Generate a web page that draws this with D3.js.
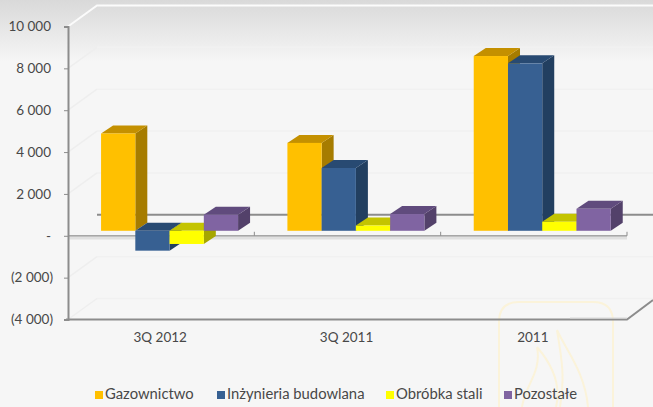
<!DOCTYPE html>
<html><head><meta charset="utf-8">
<script src="https://cdn.jsdelivr.net/npm/d3@7"></script>
<style>html,body{margin:0;padding:0;background:#f6f6f6}svg{display:block}text{font-family:Lato,"Open Sans",sans-serif;fill:#484848}</style>
</head><body><div id="c"></div>
<script>
const categories = ["3Q 2012","3Q 2011","2011"];
const seriesNames = ["Gazownictwo","Inżynieria budowlana","Obróbka stali","Pozostałe"];
const gazownictwo = [4650,4200,8350];
const inzynieria = [-950,3000,8000];
const obrobka = [-630,250,430];
const pozostale = [770,800,1050];
const seriesValues = [gazownictwo,inzynieria,obrobka,pozostale];
const frontColors = ["#FFC000","#376092","#FFFF00","#8064A2"];
const topColors = ["#C49000","#284A72","#C4C400","#604B7D"];
const sideColors = ["#A67C00","#223F60","#A6A600","#53416A"];
const tickValues = [10000,8000,6000,4000,2000,0,-2000,-4000];
const tickLabels = ["10 000","8 000","6 000","4 000","2 000","-","(2 000)","(4 000)"];

const W=653,H=407;
const svg=d3.select("#c").append("svg").attr("width",W).attr("height",H);
const defs=svg.append("defs");
const g=defs.append("linearGradient").attr("id","bg").attr("x1",0).attr("x2",0).attr("y1",0).attr("y2",1);
g.append("stop").attr("offset",0).attr("stop-color","#d9d9d9");
g.append("stop").attr("offset",1).attr("stop-color","#f6f6f6");
svg.append("rect").attr("width",W).attr("height",H).attr("fill","#f6f6f6");
svg.append("rect").attr("width",W).attr("height",62).attr("fill","url(#bg)");

// faint watermark
const wm=svg.append("g").attr("fill","none").attr("stroke","#fbf3da").attr("stroke-width",2);
wm.append("path").attr("d","M499 407V322Q499 302 519 302H593Q613 302 613 322V407");
wm.append("path").attr("d","M557 330C566 350 585 372 588 407M557 330C560 350 566 375 560 407");
wm.append("path").attr("d","M537 347C550 362 562 382 556 407M537 347C542 372 525 385 522 407");

const y=d3.scaleLinear().domain([-4000,10000]).range([319.5,26.5]);
const x0=d3.scaleBand().domain(categories).range([68,627]);
const x1=d3.scaleBand().domain(seriesNames).range([0,x0.bandwidth()]).paddingOuter(0.72).paddingInner(0);
const depthX=29,depthY=-21,barDX=12,barDY=-8,barShiftX=8.4,barShiftY=-5;
const plotR=627;

// back wall + side grid
const grid=svg.append("g");
tickValues.filter(v=>v!==0&&v!==10000&&v!==-4000).forEach(v=>{
  grid.append("line").attr("x1",68).attr("y1",y(v)).attr("x2",68+depthX).attr("y2",y(v)+depthY).attr("stroke","#eeeeee").attr("stroke-width",1.5);
  grid.append("line").attr("x1",68+depthX).attr("y1",y(v)+depthY).attr("x2",W).attr("y2",y(v)+depthY).attr("stroke","#f1f1f1").attr("stroke-width",1.5);
});
grid.append("line").attr("x1",68).attr("y1",y(-4000)).attr("x2",68+depthX).attr("y2",y(-4000)+depthY).attr("stroke","#eeeeee").attr("stroke-width",1.5);
grid.append("line").attr("x1",68+depthX).attr("y1",y(-4000)+depthY).attr("x2",W).attr("y2",y(-4000)+depthY).attr("stroke","#f1f1f1").attr("stroke-width",1.5);
grid.append("path").attr("d",`M68 ${y(10000)}L${68+depthX} ${y(10000)+depthY}H${W}`).attr("fill","none").attr("stroke","#fbfbfb").attr("stroke-width",2);
// zero plane
grid.append("line").attr("x1",68).attr("x2",plotR).attr("y1",y(0)+2.5).attr("y2",y(0)+2.5).attr("stroke","#e0e0e0").attr("stroke-width",2.5);
grid.append("line").attr("x1",68+depthX).attr("x2",W).attr("y1",y(0)+depthY).attr("y2",y(0)+depthY).attr("stroke","#8c8c8c").attr("stroke-width",2);
grid.append("line").attr("x1",68).attr("x2",plotR).attr("y1",y(0)).attr("y2",y(0)).attr("stroke","#8c8c8c").attr("stroke-width",1.2);
x0.domain().slice(1).concat(["end"]).forEach((c,i)=>{
  const px=68+(i+1)*x0.bandwidth();
  grid.append("line").attr("x1",px).attr("x2",px).attr("y1",y(0)-4).attr("y2",y(0)).attr("stroke","#8c8c8c").attr("stroke-width",1);
});

// bars
const y0=y(0);
categories.forEach((c,ci)=>{
  seriesNames.forEach((s,si)=>{
    const v=seriesValues[si][ci];
    const xl=x0(c)+x1(s)+barShiftX, w=x1.bandwidth();
    const top=Math.min(y(v),y0)+barShiftY, bot=Math.max(y(v),y0)+barShiftY;
    const b=svg.append("g").datum({c,s,v});
    b.append("path").attr("d",`M${xl+w} ${top}l${barDX} ${barDY}V${bot+barDY}l${-barDX} ${-barDY}Z`).attr("fill",sideColors[si]);
    b.append("path").attr("d",`M${xl} ${top}l${barDX} ${barDY}H${xl+w+barDX}l${-barDX} ${-barDY}Z`).attr("fill",topColors[si]);
    b.append("rect").attr("x",xl).attr("y",top).attr("width",w).attr("height",bot-top).attr("fill",frontColors[si]);
  });
});

// y axis
const ax=svg.append("g").attr("transform","translate(68,0)")
  .call(d3.axisLeft(y).tickValues(tickValues).tickSize(4).tickPadding(13).tickFormat((d,i)=>tickLabels[i]));
ax.select(".domain").attr("stroke","#8c8c8c").attr("stroke-width",2);
ax.selectAll(".tick line").attr("stroke","#8c8c8c").attr("stroke-width",1);
ax.selectAll("text").style("font-size","13.5px").style("fill","#484848").style("font-family","Lato,sans-serif")
  .attr("dx",d=>d<0?2:0);

// floor
svg.append("path").attr("d",`M66 ${y(-4000)}H${plotR}L${W} 300`).attr("fill","none").attr("stroke","#8c8c8c").attr("stroke-width",2);
svg.append("line").attr("x1",570).attr("x2",plotR).attr("y1",y(-4000)-1.5).attr("y2",y(-4000)-1.5).attr("stroke","#d8d8d8").attr("stroke-width",1);

// x labels
const xa=svg.append("g").attr("transform",`translate(-1,${y(-4000)})`)
  .call(d3.axisBottom(x0).tickSize(0).tickPadding(13));
xa.select(".domain").remove();
xa.selectAll("text").style("font-size","13.5px").style("fill","#484848").style("font-family","Lato,sans-serif");

// legend
const legendX=[95,217,386,504];
const lg=svg.append("g");
seriesNames.forEach((s,i)=>{
  lg.append("rect").attr("x",legendX[i]).attr("y",391).attr("width",8).attr("height",8).attr("fill",frontColors[i]);
  lg.append("text").attr("x",legendX[i]+10).attr("y",399).style("font-size","14.8px").text(s);
});
</script></body></html>
